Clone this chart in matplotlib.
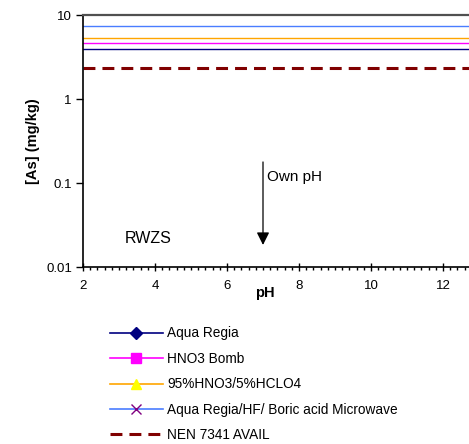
import matplotlib.pyplot as plt
from matplotlib.lines import Line2D
from matplotlib.ticker import MultipleLocator, NullLocator, FixedLocator, FixedFormatter
import numpy as np

plt.rcParams['font.family'] = ['Liberation Sans', 'DejaVu Sans']

# datos (valores constantes en mg/kg)
series = ['Aqua Regia', 'HNO3 Bomb', '95%HNO3/5%HCLO4',
          'Aqua Regia/HF/ Boric acid Microwave', 'NEN 7341 AVAIL']
valores = [3.94, 4.64, 5.3, 7.4, 2.34]
colores = ['#000080', '#ff00ff', '#ffa500', '#4a7dff', '#800000']
marcadores = ['D', 's', '^', 'x', None]
colores_marcador = ['#000080', '#ff00ff', '#ffff00', '#800080', None]

ph = [2, 14]
yticks = [0.01, 0.1, 1, 10]
yticklabels = ['0.01', '0.1', '1', '10']
xticks = [2, 4, 6, 8, 10, 12]

fig = plt.figure(figsize=(4.69, 4.44), dpi=100)
# ejes: 36 px por unidad de pH, se salen por la derecha como en el original
ax = fig.add_axes([83 / 469, (444 - 267) / 444, 432 / 469, 252 / 444])
ax.set_yscale('log')
ax.set_xlim(2, 14)
ax.set_ylim(0.01, 10)

guiones = (0, (3.9, 2.3))
for v, c, nombre in zip(valores, colores, series):
    if nombre.startswith('NEN'):
        ax.plot(ph, [v, v], color=c, lw=2.2, ls=guiones, solid_capstyle='butt')
    else:
        ax.plot(ph, [v, v], color=c, lw=1)

ax.annotate('', xy=(7, 0.0183), xytext=(7, 0.178),
            arrowprops=dict(arrowstyle='-|>', color='black', lw=0.9,
                            mutation_scale=19, shrinkA=0, shrinkB=0))
ax.text(7.1, 0.118, 'Own pH', fontsize=11, va='center', ha='left')
ax.text(3.15, 0.022, 'RWZS', fontsize=11.5, va='center', ha='left')

ax.spines['top'].set_color('#505050')
ax.spines['top'].set_linewidth(1.6)
ax.spines['right'].set_visible(False)
ax.spines['left'].set_linewidth(1.2)
ax.spines['bottom'].set_linewidth(1.2)

ax.yaxis.set_major_locator(FixedLocator(yticks))
ax.yaxis.set_major_formatter(FixedFormatter(yticklabels))
ax.yaxis.set_minor_locator(NullLocator())
ax.set_xticks(xticks)
ax.xaxis.set_minor_locator(MultipleLocator(0.2))
ax.tick_params(axis='y', which='major', direction='out', length=5, width=1, labelsize=9.5, pad=3)
ax.tick_params(axis='x', which='major', direction='inout', length=6, width=1, labelsize=9.5, pad=6)
ax.tick_params(axis='x', which='minor', direction='out', length=2.5, width=1)

ax.set_xlabel('pH', fontsize=10.5, fontweight='bold')
ax.xaxis.set_label_coords((265 - 83) / 432, -19 / 252)
ax.set_ylabel('[As] (mg/kg)', fontsize=10.5, fontweight='bold')
ax.yaxis.set_label_coords(-43 / 432, 0.5)

handles = []
for i in range(len(series)):
    if marcadores[i] is None:
        handles.append(Line2D([], [], color=colores[i], lw=2.2, ls=guiones))
    else:
        handles.append(Line2D([], [], color=colores[i], lw=1.2, marker=marcadores[i],
                              markersize=6.5, markerfacecolor=colores_marcador[i],
                              markeredgecolor=colores_marcador[i]))
fig.legend(handles, series, loc='upper left', bbox_to_anchor=(104.5 / 469, 1 - 321 / 444),
           frameon=False, fontsize=9.8, handlelength=3.9, labelspacing=0.84,
           handletextpad=0.3, borderaxespad=0)

fig.savefig('out.png', dpi=100)
